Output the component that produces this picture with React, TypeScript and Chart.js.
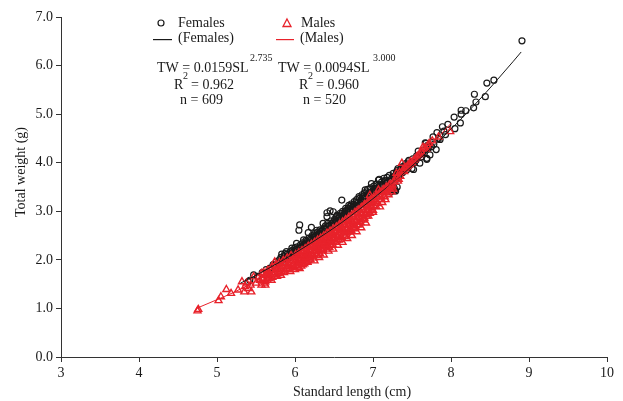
import React, { useEffect, useRef } from "react";
import { Chart, registerables } from "chart.js";

Chart.register(...registerables);

// Scatter data: [standard length (cm), total weight (g)]
const femalePoints: [number, number][] = [
  [5.40, 1.55], [5.42, 1.58], [5.47, 1.69], [5.52, 1.66], [5.58, 1.74], [5.63, 1.80], [5.68, 1.83], [5.72, 1.90],
  [5.76, 1.96], [5.79, 1.93], [5.83, 2.12], [5.87, 2.13], [5.89, 2.17], [5.94, 2.17], [5.96, 2.24], [5.85, 2.03],
  [5.91, 2.07], [5.98, 2.15], [6.02, 2.34], [6.04, 2.20], [6.06, 2.72], [6.05, 2.61], [6.08, 2.26], [6.11, 2.41],
  [6.13, 2.30], [6.17, 2.56], [6.15, 2.38], [6.19, 2.42], [6.21, 2.67], [6.23, 2.45], [6.26, 2.50], [6.28, 2.61],
  [6.30, 2.53], [6.33, 2.58], [6.36, 2.75], [6.35, 2.62], [6.38, 2.66], [6.41, 2.97], [6.41, 2.89], [6.43, 2.70],
  [6.45, 3.01], [6.47, 2.74], [6.49, 2.99], [6.50, 2.80], [6.53, 2.89], [6.55, 2.86], [6.57, 2.90], [6.60, 3.23],
  [6.60, 2.95], [6.62, 2.92], [6.64, 3.00], [6.66, 3.02], [6.68, 3.06], [6.71, 3.10], [6.73, 3.05], [6.75, 3.14],
  [6.78, 3.18], [6.80, 3.12], [6.83, 3.27], [6.85, 3.24], [6.87, 3.30], [6.90, 3.44], [6.92, 3.40], [6.94, 3.33],
  [6.96, 3.38], [6.98, 3.57], [7.00, 3.42], [7.03, 3.47], [7.05, 3.40], [7.07, 3.64], [7.08, 3.66], [7.10, 3.52],
  [7.12, 3.49], [7.15, 3.63], [7.17, 3.58], [7.20, 3.55], [7.22, 3.62], [7.23, 3.40], [7.24, 3.50], [7.25, 3.45],
  [7.26, 3.71], [7.27, 3.48], [7.28, 3.44], [7.29, 3.42], [7.30, 3.66], [7.30, 3.80], [7.31, 3.50], [7.32, 3.88],
  [7.33, 3.70], [7.34, 3.75], [7.35, 3.83], [7.36, 3.90], [7.38, 3.80], [7.41, 3.93], [7.43, 3.85], [7.45, 4.02],
  [7.47, 3.95], [7.50, 3.88], [7.52, 3.86], [7.55, 4.05], [7.58, 4.24], [7.60, 3.99], [7.62, 4.12], [7.64, 4.20],
  [7.67, 4.41], [7.68, 4.40], [7.69, 4.09], [7.69, 4.07], [7.71, 4.30], [7.73, 4.16], [7.75, 4.33], [7.77, 4.53],
  [7.78, 4.38], [7.81, 4.27], [7.82, 4.62], [7.84, 4.50], [7.86, 4.48], [7.89, 4.74], [7.91, 4.65], [7.93, 4.58],
  [7.96, 4.79], [8.04, 4.94], [8.05, 4.70], [8.12, 4.82], [8.13, 5.08], [8.13, 5.00], [8.19, 5.07], [8.29, 5.13],
  [8.30, 5.41], [8.32, 5.25], [8.44, 5.36], [8.46, 5.64], [8.55, 5.70], [8.91, 6.51],
  [5.80, 2.00], [5.82, 2.05], [5.84, 1.99], [5.86, 2.08], [5.88, 2.04], [5.90, 2.12], [5.92, 2.10], [5.93, 2.05],
  [5.95, 2.14], [5.97, 2.20], [5.99, 2.18], [6.00, 2.25], [6.01, 2.21], [6.03, 2.27], [6.05, 2.24], [6.07, 2.31],
  [6.09, 2.28], [6.10, 2.35], [6.12, 2.33], [6.14, 2.40], [6.16, 2.36], [6.18, 2.45], [6.20, 2.40], [6.22, 2.50],
  [6.24, 2.47], [6.25, 2.54], [6.27, 2.49], [6.29, 2.57], [6.31, 2.55], [6.32, 2.62], [6.34, 2.59], [6.37, 2.64],
  [6.39, 2.70], [6.40, 2.64], [6.42, 2.75], [6.44, 2.69], [6.46, 2.80], [6.48, 2.76], [6.51, 2.84], [6.52, 2.78],
  [6.54, 2.92], [6.56, 2.82], [6.58, 2.96], [6.59, 2.88], [6.61, 3.00], [6.63, 2.94], [6.65, 3.06], [6.67, 2.99],
  [6.69, 3.12], [6.70, 3.02], [6.72, 3.15], [6.74, 3.10], [6.76, 3.20], [6.77, 3.12], [6.79, 3.24], [6.81, 3.18],
  [6.82, 3.30], [6.84, 3.20], [6.86, 3.34], [6.88, 3.26], [6.89, 3.38], [6.91, 3.30], [6.93, 3.45], [6.95, 3.36],
  [6.97, 3.48], [6.99, 3.40], [7.01, 3.52], [7.02, 3.44], [7.04, 3.56], [7.06, 3.48], [7.09, 3.55], [7.11, 3.60],
  [7.13, 3.54], [7.14, 3.68], [7.16, 3.62], [7.18, 3.70], [7.19, 3.60], [7.21, 3.74], [7.23, 3.66], [7.26, 3.78],
  [7.28, 3.72], [7.31, 3.84], [7.33, 3.79], [7.36, 3.86], [7.38, 3.92], [7.40, 3.86], [7.42, 3.98], [7.44, 3.90],
  [7.46, 4.05], [7.48, 3.98], [7.51, 4.08], [7.53, 4.00], [7.56, 4.14], [7.61, 4.18], [7.65, 4.26], [7.70, 4.36],
];

const malePoints: [number, number][] = [
  [4.75, 0.95], [4.76, 0.98], [5.02, 1.16], [5.05, 1.24], [5.12, 1.39], [5.18, 1.31], [5.27, 1.38], [5.32, 1.55],
  [5.35, 1.34], [5.38, 1.52], [5.40, 1.41], [5.36, 1.45], [5.43, 1.48], [5.44, 1.34], [5.47, 1.65], [5.50, 1.52],
  [5.55, 1.58], [5.57, 1.48], [5.57, 1.72], [5.60, 1.62], [5.62, 1.55], [5.62, 1.48], [5.64, 1.68], [5.66, 1.76],
  [5.66, 1.65], [5.68, 1.70], [5.70, 1.58], [5.72, 1.69], [5.74, 1.96], [5.75, 1.80], [5.77, 1.66], [5.79, 1.72],
  [5.81, 1.85], [5.83, 1.76], [5.85, 1.92], [5.87, 1.79], [5.89, 1.86], [5.91, 1.93], [5.93, 1.82], [5.95, 1.98],
  [5.96, 1.86], [5.98, 1.92],
  [5.58, 1.60], [5.61, 1.52], [5.63, 1.72], [5.65, 1.58], [5.67, 1.62], [5.69, 1.78], [5.71, 1.64], [5.73, 1.74],
  [5.76, 1.70], [5.78, 1.82], [5.80, 1.76], [5.82, 1.68], [5.84, 1.86], [5.86, 1.74], [5.88, 1.94], [5.90, 1.80],
  [5.92, 1.90], [5.94, 1.76], [5.97, 2.00], [5.99, 1.84],
  [5.60, 1.74], [5.65, 1.79], [5.70, 1.84], [5.75, 1.89], [5.80, 1.94], [5.85, 1.99], [5.90, 2.04], [5.95, 2.09],
  [6.00, 2.05], [6.01, 1.88], [6.02, 2.00], [6.03, 1.95], [6.04, 2.10], [6.05, 1.92], [6.06, 1.82], [6.07, 2.02],
  [6.08, 2.08], [6.09, 2.15], [6.10, 1.90], [6.11, 2.00], [6.12, 2.08], [6.13, 1.98], [6.14, 2.12], [6.15, 2.20],
  [6.16, 1.95], [6.17, 2.05], [6.18, 2.12], [6.19, 2.02], [6.20, 2.18], [6.21, 2.28], [6.22, 2.08], [6.23, 2.10],
  [6.24, 2.18], [6.25, 1.98], [6.26, 2.24], [6.27, 2.33], [6.28, 2.12], [6.29, 2.18], [6.30, 2.25], [6.31, 2.05],
  [6.32, 2.30], [6.33, 2.40], [6.34, 2.20], [6.35, 2.22], [6.36, 2.32], [6.37, 2.10], [6.38, 2.36], [6.39, 2.45],
  [6.40, 2.28], [6.41, 2.30], [6.42, 2.38], [6.43, 2.18], [6.44, 2.44], [6.45, 2.52], [6.46, 2.30], [6.47, 2.38],
  [6.48, 2.44], [6.49, 2.22], [6.50, 2.46], [6.51, 2.58], [6.52, 2.36], [6.53, 2.42], [6.54, 2.50], [6.55, 2.30],
  [6.56, 2.55], [6.57, 2.65], [6.58, 2.42], [6.59, 2.48], [6.60, 2.56], [6.61, 2.36], [6.62, 2.62], [6.63, 2.72],
  [6.64, 2.48], [6.65, 2.55], [6.66, 2.62], [6.67, 2.44], [6.68, 2.70], [6.69, 2.80], [6.70, 2.58], [6.71, 2.62],
  [6.72, 2.70], [6.73, 2.50], [6.74, 2.78], [6.75, 2.88], [6.76, 2.64], [6.77, 2.70], [6.78, 2.78], [6.79, 2.58],
  [6.80, 2.86], [6.81, 2.96], [6.82, 2.72], [6.83, 2.78], [6.84, 2.86], [6.85, 2.66], [6.86, 2.94], [6.87, 3.04],
  [6.88, 2.82], [6.89, 2.86], [6.90, 2.94], [6.91, 2.76], [6.92, 3.02], [6.93, 3.12], [6.94, 2.90], [6.95, 2.96],
  [6.96, 3.33], [6.97, 3.02], [6.98, 3.10], [6.99, 3.18], [7.00, 3.02],
  [6.00, 1.80], [6.04, 1.84], [6.08, 1.87], [6.12, 1.92], [6.16, 1.96], [6.20, 2.00], [6.24, 2.04], [6.28, 2.09],
  [6.32, 2.13], [6.36, 2.18], [6.40, 2.22], [6.44, 2.26], [6.48, 2.32], [6.52, 2.36], [6.56, 2.41], [6.60, 2.46],
  [6.64, 2.51], [6.68, 2.57], [6.72, 2.61], [6.76, 2.67], [6.80, 2.72], [6.84, 2.77], [6.88, 2.84], [6.92, 2.90],
  [6.96, 2.96], [7.00, 2.98],
  [6.02, 1.93], [6.06, 1.97], [6.10, 2.01], [6.14, 2.05], [6.18, 2.10], [6.22, 2.14], [6.26, 2.18], [6.30, 2.23],
  [6.34, 2.28], [6.38, 2.32], [6.42, 2.37], [6.46, 2.42], [6.50, 2.46], [6.54, 2.51], [6.58, 2.56], [6.62, 2.61],
  [6.66, 2.66], [6.70, 2.71], [6.74, 2.76], [6.78, 2.82], [6.82, 2.88], [6.86, 2.93], [6.90, 2.97], [6.94, 3.04],
  [6.98, 3.08],
  [6.03, 2.07], [6.07, 2.11], [6.11, 2.16], [6.15, 2.20], [6.19, 2.25], [6.23, 2.29], [6.27, 2.33], [6.31, 2.38],
  [6.35, 2.43], [6.39, 2.47], [6.43, 2.52], [6.47, 2.57], [6.51, 2.61], [6.55, 2.66], [6.59, 2.71], [6.63, 2.76],
  [6.67, 2.81], [6.71, 2.86], [6.75, 2.92], [6.79, 2.97], [6.83, 3.02], [6.87, 3.08], [6.91, 3.13], [6.95, 3.18],
  [6.99, 3.24],
  [6.01, 2.11], [6.05, 2.15], [6.09, 2.19], [6.13, 2.23], [6.17, 2.28], [6.21, 2.32], [6.25, 2.36], [6.29, 2.41],
  [6.33, 2.45], [6.37, 2.50], [6.41, 2.55], [6.45, 2.59], [6.49, 2.64], [6.53, 2.68], [6.57, 2.73], [6.61, 2.78],
  [6.65, 2.83], [6.69, 2.88], [6.73, 2.93], [6.77, 2.98], [6.81, 3.03], [6.85, 3.08], [6.89, 3.14], [6.93, 3.19],
  [6.97, 3.24], [7.01, 3.29], [7.05, 3.34], [7.09, 3.40], [7.13, 3.45], [7.17, 3.50], [7.21, 3.55],
  [7.01, 3.12], [7.03, 3.20], [7.05, 3.30], [7.06, 3.16], [7.08, 3.34], [7.11, 3.24], [7.13, 3.40], [7.15, 3.30],
  [7.17, 3.42], [7.19, 3.38], [7.21, 3.46], [7.23, 3.50], [7.25, 3.54], [7.26, 3.46], [7.28, 3.66], [7.31, 3.70],
  [7.33, 3.66], [7.34, 3.80], [7.38, 3.84], [7.41, 3.88], [7.44, 3.92], [7.47, 3.96], [7.50, 4.00], [7.54, 4.08],
  [7.58, 4.15], [7.62, 4.22], [7.66, 4.30], [7.70, 4.35],
  [7.02, 3.25], [7.04, 3.10], [7.07, 3.44], [7.09, 3.09], [7.10, 3.30], [7.12, 3.18], [7.14, 3.38], [7.16, 3.24],
  [7.18, 3.48], [7.20, 3.34], [7.22, 3.55], [7.24, 3.40], [7.27, 3.60], [7.30, 3.78], [7.32, 3.62], [7.35, 3.72],
  [7.37, 3.99], [7.40, 3.82], [7.42, 3.90], [7.45, 3.95], [7.48, 4.02], [7.52, 4.05], [7.56, 4.12], [7.60, 4.18],
  [7.64, 4.32], [7.68, 4.28], [7.72, 4.40], [7.76, 4.45], [7.84, 4.53], [7.99, 4.64],
];

// Fitted power curves
const femaleCurveSL = [5.3, 5.4, 5.6, 5.8, 6.0, 6.2, 6.4, 6.6, 6.8, 7.0, 7.2, 7.4, 7.6, 7.8, 8.0, 8.2, 8.4, 8.6, 8.8, 8.9];
const femaleCurveTW = [1.52, 1.60, 1.77, 1.95, 2.14, 2.34, 2.55, 2.77, 3.01, 3.26, 3.52, 3.79, 4.08, 4.38, 4.69, 5.02, 5.36, 5.72, 6.09, 6.28];
const maleCurveSL = [4.75, 5.0, 5.2, 5.4, 5.6, 5.8, 6.0, 6.2, 6.4, 6.6, 6.8, 7.0, 7.2, 7.4, 7.6, 7.8, 8.0];
const maleCurveTW = [1.01, 1.18, 1.32, 1.48, 1.65, 1.83, 2.03, 2.24, 2.46, 2.70, 2.96, 3.22, 3.51, 3.81, 4.13, 4.46, 4.81];

const xTickValues = [3, 4, 5, 6, 7, 8, 9, 10];
const yTickValues = [0, 1, 2, 3, 4, 5, 6, 7];

const FONT = "'Liberation Serif', 'Times New Roman', 'DejaVu Serif', serif";
const RED = "#e8222b";
const INK = "#1a1a1a";

const annotationPlugin = {
  id: "annotations",
  afterDraw(chart: any) {
    const ctx: CanvasRenderingContext2D = chart.ctx;
    ctx.save();
    ctx.fillStyle = INK;
    ctx.textBaseline = "middle";
    ctx.textAlign = "left";
    const big = `14px ${FONT}`;
    const small = `10px ${FONT}`;
    const txt = (s: string, x: number, y: number, f: string, color = INK) => {
      ctx.font = f;
      ctx.fillStyle = color;
      ctx.fillText(s, x, y);
    };

    // Legend
    ctx.lineWidth = 1.2;
    ctx.strokeStyle = INK;
    ctx.beginPath();
    ctx.arc(161, 23, 3, 0, Math.PI * 2);
    ctx.stroke();
    txt("Females", 178, 23, big);
    ctx.fillStyle = INK;
    ctx.fillRect(153, 39, 19, 1.2);
    txt("(Females)", 178, 38, big);

    ctx.strokeStyle = RED;
    ctx.lineWidth = 1.3;
    ctx.beginPath();
    ctx.moveTo(287, 19);
    ctx.lineTo(291, 26.5);
    ctx.lineTo(283, 26.5);
    ctx.closePath();
    ctx.stroke();
    txt("Males", 301, 23, big);
    ctx.fillStyle = RED;
    ctx.fillRect(276, 39, 18, 1.2);
    txt("(Males)", 300, 38, big);

    // Equations
    txt("TW = 0.0159SL", 157, 68, big);
    txt("2.735", 250, 58, small);
    txt("R", 174, 85, big);
    txt("2", 183, 76, small);
    txt("= 0.962", 191, 85, big);
    txt("n = 609", 180, 100, big);

    txt("TW = 0.0094SL", 278, 68, big);
    txt("3.000", 373, 58, small);
    txt("R", 299, 85, big);
    txt("2", 308, 76, small);
    txt("= 0.960", 316, 85, big);
    txt("n = 520", 303, 100, big);

    // Axis titles
    ctx.textAlign = "center";
    txt("Standard length (cm)", 352, 392, big);
    ctx.translate(21, 172);
    ctx.rotate(-Math.PI / 2);
    txt("Total weight (g)", 0, 0, big);
    ctx.restore();
  },
};

export default function App() {
  const ref = useRef<HTMLCanvasElement | null>(null);

  useEffect(() => {
    if (!ref.current) return;
    const chart = new Chart(ref.current, {
      type: "scatter",
      data: {
        datasets: [
          {
            label: "Females",
            data: femalePoints.map(([x, y]) => ({ x, y })),
            pointStyle: "circle",
            pointRadius: 3,
            borderWidth: 1.2,
            borderColor: INK,
            backgroundColor: "rgba(0,0,0,0)",
            order: 4,
          },
          {
            label: "Males",
            data: malePoints.map(([x, y]) => ({ x, y })),
            pointStyle: "triangle",
            pointRadius: 4,
            borderWidth: 1.4,
            borderColor: RED,
            backgroundColor: "rgba(0,0,0,0)",
            order: 3,
          },
          {
            label: "(Females)",
            type: "line",
            data: femaleCurveSL.map((x, i) => ({ x, y: femaleCurveTW[i] })),
            borderColor: INK,
            borderWidth: 1,
            pointRadius: 0,
            cubicInterpolationMode: "monotone",
            fill: false,
            order: 2,
          },
          {
            label: "(Males)",
            type: "line",
            data: maleCurveSL.map((x, i) => ({ x, y: maleCurveTW[i] })),
            borderColor: RED,
            borderWidth: 1,
            pointRadius: 0,
            cubicInterpolationMode: "monotone",
            fill: false,
            order: 1,
          },
        ] as any,
      },
      options: {
        animation: false,
        responsive: false,
        devicePixelRatio: 1,
        layout: { padding: { top: 17, right: 16, left: 0, bottom: 0 } },
        plugins: {
          legend: { display: false },
          tooltip: { enabled: false },
          title: { display: false },
        },
        scales: {
          x: {
            type: "linear",
            min: 3,
            max: 10,
            afterBuildTicks: (s: any) => {
              s.ticks = xTickValues.map((v) => ({ value: v }));
            },
            afterFit: (s: any) => {
              s.height = 44;
            },
            ticks: {
              font: { family: FONT, size: 14 },
              color: INK,
              padding: 3,
              callback: (v: any) => String(v),
            },
            grid: { display: true, drawOnChartArea: false, drawTicks: true, tickLength: 5, color: "#333" },
            border: { display: true, color: "#333", width: 1 },
          },
          y: {
            type: "linear",
            min: 0,
            max: 7,
            afterBuildTicks: (s: any) => {
              s.ticks = yTickValues.map((v) => ({ value: v }));
            },
            afterFit: (s: any) => {
              s.width = 61;
            },
            ticks: {
              font: { family: FONT, size: 14 },
              color: INK,
              padding: 3,
              callback: (v: any) => Number(v).toFixed(1),
            },
            grid: { display: true, drawOnChartArea: false, drawTicks: true, tickLength: 5, color: "#333" },
            border: { display: true, color: "#333", width: 1 },
          },
        },
      },
      plugins: [annotationPlugin],
    } as any);
    return () => chart.destroy();
  }, []);

  return (
    <div style={{ position: "absolute", left: 0, top: 0, width: 623, height: 401, background: "#fff" }}>
      <canvas ref={ref} width={623} height={401} style={{ display: "block", width: 623, height: 401 }} />
    </div>
  );
}
